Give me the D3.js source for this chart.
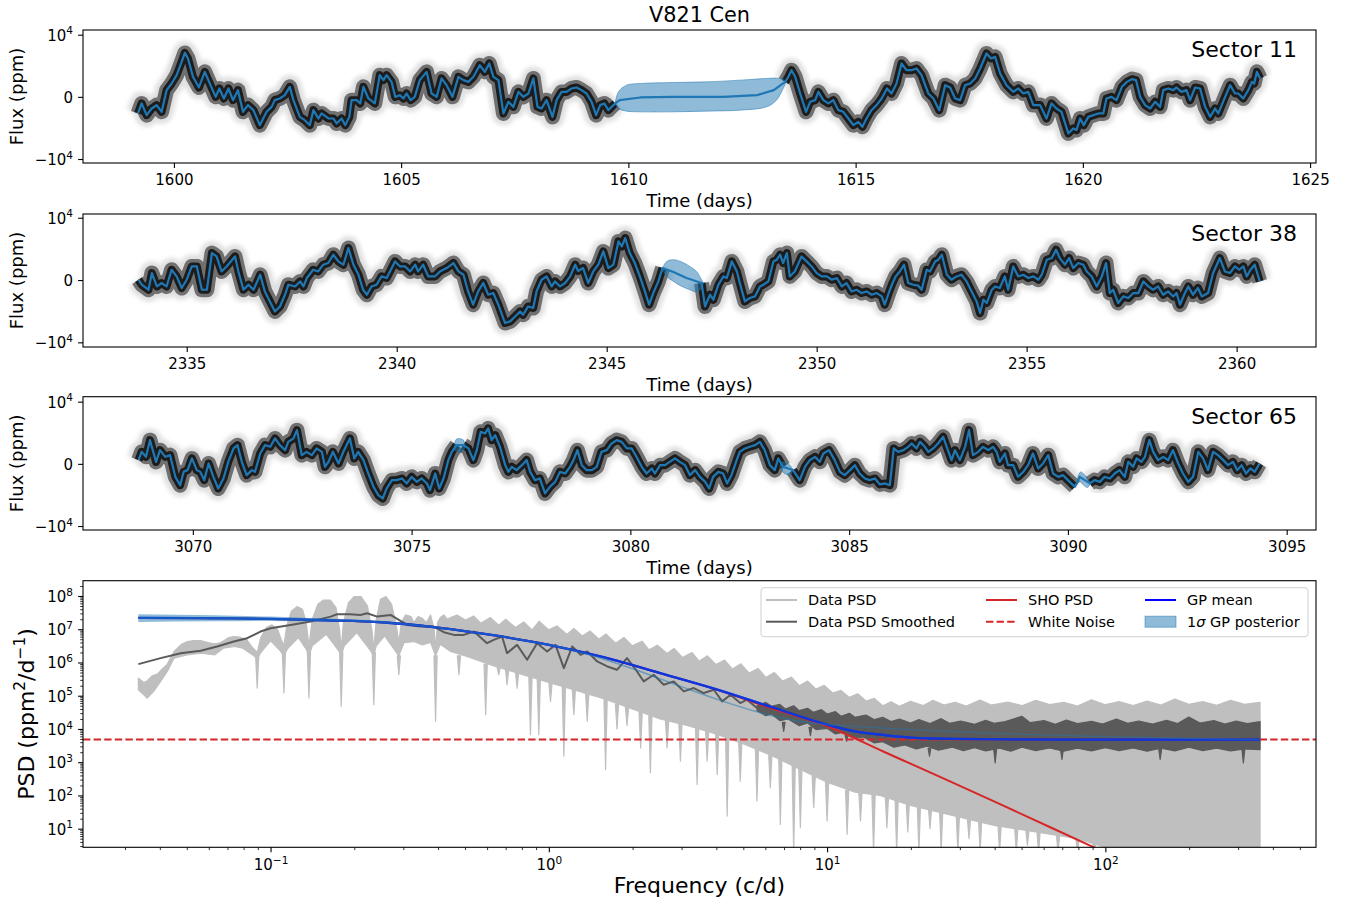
<!DOCTYPE html>
<html>
<head>
<meta charset="utf-8">
<script src="https://cdn.jsdelivr.net/npm/d3@7"></script>
<style>
  html, body { margin: 0; padding: 0; background: #fff; }
  svg text { font-family: "DejaVu Sans", sans-serif; }
</style>
</head>
<body>
<script>
// ---------------------------------------------------------------------------
// V821 Cen: TESS light curves (sectors 11, 38, 65) with GP posterior, and PSD
// ---------------------------------------------------------------------------

// Tick values
const s11Ticks = [1600, 1605, 1610, 1615, 1620, 1625];
const s38Ticks = [2335, 2340, 2345, 2350, 2355, 2360];
const s65Ticks = [3070, 3075, 3080, 3085, 3090, 3095];
const fluxTicks = [-1e4, 0, 1e4];
const psdYTicks = [1e1, 1e2, 1e3, 1e4, 1e5, 1e6, 1e7, 1e8];
const psdXTicks = [1e-1, 1e0, 1e1, 1e2];

// GP posterior mean [time (BTJD), flux (ppm)]
const s11Mean = [[1599.21,-2670],[1599.29,-1060],[1599.40,-2940],[1599.51,-1870],[1599.62,-1330],[1599.73,-2410],[1599.84,1080],[1599.95,2150],[1600.06,3490],[1600.17,5630],[1600.24,7070],[1600.31,6170],[1600.42,3220],[1600.55,1510],[1600.68,4020],[1600.79,2150],[1600.92,0],[1601.0,1350],[1601.1,-260],[1601.2,1350],[1601.3,-530],[1601.41,1080],[1601.52,-2410],[1601.63,-1330],[1601.75,-2140],[1601.89,-4550],[1602.04,-2410],[1602.15,-1610],[1602.22,-530],[1602.33,-260],[1602.44,270],[1602.55,1610],[1602.63,-530],[1602.77,-3220],[1602.88,-3750],[1602.99,-4550],[1603.07,-2140],[1603.18,-3480],[1603.25,-2670],[1603.40,-3480],[1603.51,-3480],[1603.58,-4280],[1603.69,-3480],[1603.77,-4550],[1603.86,-3220],[1603.91,-530],[1604.02,-530],[1604.10,-1060],[1604.17,1610],[1604.28,-260],[1604.42,-1060],[1604.53,3490],[1604.61,2690],[1604.68,3490],[1604.79,2410],[1604.87,0],[1604.97,270],[1605.05,-260],[1605.12,540],[1605.21,-530],[1605.30,0],[1605.41,2690],[1605.56,4020],[1605.67,540],[1605.78,0],[1605.89,2960],[1606.0,1880],[1606.13,0],[1606.26,3220],[1606.37,2690],[1606.48,2410],[1606.59,3220],[1606.73,5100],[1606.84,4020],[1606.94,5370],[1607.03,3220],[1607.14,2690],[1607.25,-2670],[1607.36,-800],[1607.47,-1610],[1607.58,800],[1607.69,0],[1607.80,540],[1607.91,2960],[1608.0,-1610],[1608.09,-1870],[1608.2,-530],[1608.33,-3220],[1608.42,-530],[1608.53,800],[1608.64,800],[1608.75,1350],[1608.86,1510],[1608.97,1080],[1609.08,540],[1609.19,-800],[1609.29,-2940],[1609.38,-1330],[1609.47,-1060],[1609.56,-2140],[1609.63,-1610],[1609.71,-1060],[1609.81,-530],[1610.26,-100],[1610.99,0],[1612.09,0],[1612.83,270],[1613.2,1080],[1613.45,2410],[1613.52,3220],[1613.59,4290],[1613.67,3220],[1613.78,540],[1613.91,-2410],[1614.0,-800],[1614.11,-530],[1614.18,800],[1614.29,-530],[1614.40,-1060],[1614.51,-530],[1614.62,-2140],[1614.73,-2410],[1614.84,-3480],[1614.95,-4550],[1615.06,-4020],[1615.15,-4820],[1615.24,-3480],[1615.35,-2140],[1615.46,-1330],[1615.57,-300],[1615.69,1350],[1615.79,540],[1615.90,2150],[1616.01,5370],[1616.12,4290],[1616.23,4290],[1616.34,4560],[1616.45,3490],[1616.60,540],[1616.71,-260],[1616.84,-2140],[1616.97,1880],[1617.08,1510],[1617.19,-260],[1617.30,-530],[1617.41,1880],[1617.52,2150],[1617.63,2960],[1617.74,4560],[1617.88,6980],[1617.98,6170],[1618.07,6430],[1618.18,3760],[1618.32,1880],[1618.47,800],[1618.58,1350],[1618.69,540],[1618.80,800],[1618.91,-1330],[1619.06,-1330],[1619.20,-3480],[1619.31,-1060],[1619.42,-1870],[1619.53,-2410],[1619.68,-5880],[1619.79,-5080],[1619.86,-5350],[1619.94,-3480],[1620.02,-4550],[1620.12,-3220],[1620.23,-2940],[1620.34,-2670],[1620.45,-2670],[1620.52,-260],[1620.63,0],[1620.74,-530],[1620.86,1610],[1620.97,2410],[1621.08,2850],[1621.17,2690],[1621.26,0],[1621.37,-1330],[1621.48,-1870],[1621.59,-800],[1621.70,-1610],[1621.77,1080],[1621.88,1350],[1621.99,1080],[1622.06,1510],[1622.17,800],[1622.28,1080],[1622.36,-530],[1622.47,1510],[1622.58,1350],[1622.69,-1610],[1622.80,-3220],[1622.91,-1870],[1622.98,-2670],[1623.13,0],[1623.24,1880],[1623.35,540],[1623.42,540],[1623.53,-260],[1623.64,1080],[1623.72,2410],[1623.77,2150],[1623.83,4020],[1623.90,2960]];

const s38Mean = [[2333.85,50],[2333.93,-750],[2334.09,-1560],[2334.17,1120],[2334.29,-1030],[2334.40,-480],[2334.52,-1030],[2334.64,1650],[2334.76,580],[2334.88,-1280],[2335.0,50],[2335.12,2180],[2335.24,2180],[2335.36,-1560],[2335.48,-1560],[2335.60,4330],[2335.71,3790],[2335.83,1380],[2335.95,2180],[2336.15,3790],[2336.23,1380],[2336.35,-1560],[2336.47,-750],[2336.59,-1560],[2336.75,850],[2336.86,-1830],[2336.98,-3430],[2337.10,-5040],[2337.22,-4240],[2337.34,-2360],[2337.42,-750],[2337.58,-1030],[2337.70,-220],[2337.78,-1030],[2337.86,320],[2338.01,1650],[2338.13,1380],[2338.25,2460],[2338.37,2730],[2338.49,4060],[2338.61,2990],[2338.73,2460],[2338.85,5140],[2338.97,2460],[2339.09,850],[2339.20,-1560],[2339.29,-2360],[2339.40,-1030],[2339.52,-750],[2339.64,580],[2339.76,320],[2339.84,1380],[2339.96,2990],[2340.08,2180],[2340.20,2180],[2340.32,1380],[2340.44,2460],[2340.51,1380],[2340.63,2460],[2340.75,580],[2340.91,580],[2341.03,1380],[2341.19,1920],[2341.35,2730],[2341.47,1380],[2341.59,850],[2341.70,-1830],[2341.82,-3960],[2341.94,-1830],[2342.06,-480],[2342.18,-2360],[2342.30,-2090],[2342.42,-3960],[2342.58,-6900],[2342.70,-6640],[2342.82,-5840],[2342.94,-5040],[2343.01,-5570],[2343.13,-4240],[2343.25,-4490],[2343.33,-1830],[2343.45,50],[2343.57,580],[2343.69,-1030],[2343.77,-220],[2343.89,-1030],[2344.01,-480],[2344.13,580],[2344.25,2460],[2344.32,1450],[2344.44,1920],[2344.56,-480],[2344.68,1380],[2344.80,2460],[2344.92,4590],[2345.04,1920],[2345.16,2460],[2345.28,6200],[2345.36,5400],[2345.44,6740],[2345.55,4330],[2345.67,2730],[2345.79,580],[2345.91,-1830],[2346.01,-3960],[2346.11,-2090],[2346.23,-220],[2346.33,1920],[2346.59,1300],[2346.90,320],[2347.26,-480],[2347.34,-4240],[2347.46,-2360],[2347.54,-3160],[2347.66,-750],[2347.78,580],[2347.86,320],[2347.98,2990],[2348.10,1380],[2348.17,-480],[2348.29,-3430],[2348.41,-2890],[2348.53,-2630],[2348.65,-1030],[2348.73,-750],[2348.85,-220],[2348.97,2990],[2349.05,3260],[2349.13,4060],[2349.20,2730],[2349.29,4330],[2349.36,580],[2349.48,1380],[2349.64,3790],[2349.76,2990],[2349.88,2180],[2350.0,1120],[2350.12,580],[2350.24,580],[2350.36,50],[2350.48,320],[2350.60,-1030],[2350.71,-480],[2350.83,-1830],[2350.95,-1560],[2351.07,-2090],[2351.19,-1830],[2351.31,-2360],[2351.43,-2090],[2351.55,-2630],[2351.62,-3960],[2351.72,-2000],[2351.80,-600],[2351.88,580],[2351.98,1380],[2352.08,2460],[2352.18,-480],[2352.30,-750],[2352.42,-910],[2352.50,-1560],[2352.62,1650],[2352.70,1380],[2352.82,2990],[2352.90,3260],[2352.98,4060],[2353.10,850],[2353.21,50],[2353.33,580],[2353.45,850],[2353.57,-220],[2353.69,-1830],[2353.81,-3430],[2353.89,-5300],[2353.97,-3160],[2354.05,-3690],[2354.17,-1560],[2354.25,-1030],[2354.36,-1280],[2354.48,580],[2354.56,-1560],[2354.68,2180],[2354.80,580],[2354.92,850],[2355.04,320],[2355.16,580],[2355.28,50],[2355.36,850],[2355.48,3260],[2355.60,3530],[2355.70,4860],[2355.79,3530],[2355.91,2460],[2356.01,3530],[2356.11,1920],[2356.23,2730],[2356.35,2460],[2356.43,1380],[2356.55,580],[2356.67,-1030],[2356.79,580],[2356.89,2730],[2356.98,-2090],[2357.06,-1560],[2357.18,-3690],[2357.30,-2630],[2357.42,-2890],[2357.54,-2090],[2357.66,-2090],[2357.78,-220],[2357.90,-1030],[2358.01,-1560],[2358.13,-1030],[2358.25,-2360],[2358.37,-1830],[2358.49,-2630],[2358.57,-2090],[2358.65,-3960],[2358.77,-2090],[2358.85,-1030],[2358.96,-2360],[2359.08,-1280],[2359.17,-2630],[2359.32,-2090],[2359.44,1120],[2359.60,3530],[2359.72,1380],[2359.84,1120],[2359.96,2180],[2360.06,1650],[2360.16,2180],[2360.24,580],[2360.33,1650],[2360.43,2460],[2360.55,-220]];

const s65Mean = [[3068.76,600],[3068.83,1930],[3068.93,1130],[3069.02,3810],[3069.16,320],[3069.25,2200],[3069.37,1130],[3069.48,1400],[3069.60,-2090],[3069.71,-3430],[3069.79,-1290],[3069.88,-1010],[3069.98,870],[3070.09,-1010],[3070.17,-1290],[3070.26,-2620],[3070.36,60],[3070.47,-2090],[3070.58,-3960],[3070.70,-2350],[3070.81,320],[3070.93,2480],[3071.02,3010],[3071.12,320],[3071.23,-1820],[3071.35,-1010],[3071.42,-1290],[3071.54,1670],[3071.65,3010],[3071.77,2740],[3071.88,4090],[3071.99,3010],[3072.11,2200],[3072.18,3540],[3072.30,4090],[3072.38,5420],[3072.49,1400],[3072.60,1930],[3072.72,1400],[3072.83,2480],[3072.95,1930],[3073.02,-480],[3073.10,320],[3073.20,1930],[3073.33,60],[3073.44,1930],[3073.59,4090],[3073.69,870],[3073.78,1930],[3073.90,600],[3074.01,-1550],[3074.13,-3700],[3074.24,-5040],[3074.34,-5570],[3074.43,-3960],[3074.55,-2620],[3074.66,-2620],[3074.78,-2350],[3074.89,-3150],[3075.0,-2090],[3075.12,-2900],[3075.23,-2350],[3075.35,-3150],[3075.42,-4230],[3075.54,-1550],[3075.63,-3960],[3075.73,-2350],[3075.84,600],[3075.92,1930],[3076.03,3010],[3076.18,3010],[3076.30,2480],[3076.41,600],[3076.49,2200],[3076.58,5150],[3076.68,4890],[3076.75,5700],[3076.83,3810],[3076.91,4620],[3077.02,2740],[3077.14,-210],[3077.21,-1290],[3077.29,-480],[3077.40,-1010],[3077.52,-210],[3077.63,600],[3077.71,-1290],[3077.82,-2620],[3077.93,-2350],[3078.05,-4760],[3078.16,-3700],[3078.28,-2900],[3078.39,-1290],[3078.51,-1550],[3078.62,-480],[3078.70,600],[3078.79,2200],[3078.89,-210],[3079.0,-1010],[3079.12,-1010],[3079.23,-480],[3079.34,1930],[3079.46,2200],[3079.57,3280],[3079.69,3810],[3079.80,3540],[3079.92,2480],[3080.03,2480],[3080.14,1130],[3080.26,-480],[3080.37,-1550],[3080.49,-740],[3080.56,-1550],[3080.68,-210],[3080.79,-210],[3080.90,320],[3081.02,870],[3081.13,320],[3081.25,-210],[3081.36,-1820],[3081.48,-1010],[3081.59,-2090],[3081.71,-2900],[3081.80,-3960],[3081.89,-2090],[3082.01,-1290],[3082.12,-1550],[3082.21,-3150],[3082.31,-1820],[3082.43,600],[3082.50,1930],[3082.62,2480],[3082.73,2740],[3082.85,3010],[3082.96,3540],[3083.07,2200],[3083.19,-210],[3083.30,-1010],[3083.38,870],[3083.49,-480],[3083.61,-740],[3083.72,-1010],[3083.87,-2620],[3083.99,-480],[3084.10,600],[3084.22,1130],[3084.33,320],[3084.41,1670],[3084.54,2200],[3084.67,600],[3084.79,-1290],[3084.90,-1820],[3085.02,-1010],[3085.13,-210],[3085.24,-1550],[3085.36,-2350],[3085.47,-2620],[3085.59,-2350],[3085.70,-3300],[3085.82,-3150],[3085.93,-3430],[3086.02,2480],[3086.12,1930],[3086.24,2200],[3086.35,2740],[3086.43,3280],[3086.54,2480],[3086.62,3540],[3086.73,2740],[3086.81,1930],[3086.92,2480],[3087.03,3280],[3087.15,4350],[3087.23,2740],[3087.34,600],[3087.42,2200],[3087.53,600],[3087.65,2740],[3087.74,5420],[3087.83,1400],[3087.95,1930],[3088.06,2740],[3088.18,2200],[3088.29,2740],[3088.37,1930],[3088.44,320],[3088.56,1670],[3088.63,-210],[3088.75,-210],[3088.86,-2090],[3088.98,-1290],[3089.09,-210],[3089.20,1670],[3089.32,-740],[3089.43,60],[3089.55,1400],[3089.66,-1550],[3089.78,-2090],[3089.89,-1820],[3090.00,-2620],[3090.16,-3700],[3090.27,-2090],[3090.50,-3150],[3090.61,-2620],[3090.73,-2900],[3090.84,-2090],[3090.96,-2350],[3091.07,-1550],[3091.18,-1010],[3091.30,-2090],[3091.38,320],[3091.49,-480],[3091.57,870],[3091.68,320],[3091.76,1130],[3091.86,3810],[3091.95,1930],[3092.06,600],[3092.18,1130],[3092.29,600],[3092.40,2200],[3092.52,60],[3092.63,-1550],[3092.75,-2900],[3092.86,-2090],[3092.98,1930],[3093.09,870],[3093.20,-1010],[3093.32,1930],[3093.43,1400],[3093.55,600],[3093.66,-210],[3093.77,320],[3093.87,-1010],[3093.97,-210],[3094.07,-1550],[3094.17,-740],[3094.27,-1290],[3094.38,60]];

// GP 1-sigma posterior inside the data gaps [time, lower, upper]
const s11Band = [[1609.71,-1060,-1060],[1609.78,-1870,800],[1609.96,-2300,1880],[1610.26,-2410,2150],[1610.99,-2410,2310],[1611.72,-2300,2410],[1612.46,-2140,2690],[1613.04,-1610,2960],[1613.26,-530,3010],[1613.41,1400,2850],[1613.47,2360,2360]];
const s38Band = [[2346.33,1650,1920],[2346.43,580,2990],[2346.59,-220,3260],[2346.79,-1030,2890],[2346.98,-1560,2180],[2347.14,-1930,1380],[2347.26,-1280,50],[2347.30,-480,-480]];
const s65Band = [[3075.97,2300,2300],[3076.02,2050,3950],[3076.10,1950,4050],[3076.18,2150,3850],[3076.23,2950,2950],
                 [3083.42,-300,-300],[3083.48,-1300,300],[3083.57,-1700,100],[3083.66,-1800,-300],[3083.71,-1000,-1000],
                 [3090.22,-2300,-2300],[3090.29,-2900,-1300],[3090.37,-3500,-1700],[3090.45,-3800,-2300],[3090.52,-3150,-3150]];
const s65BandGroups = [[3075.9, 3076.3], [3083.4, 3083.75], [3090.2, 3090.6]];

// Time ranges covered by photometry [start, end]
const s11Segments = [[1599.21, 1609.71], [1613.45, 1623.90]];
const s38Segments = [[2333.85, 2346.33], [2347.26, 2360.55]];
const s65Segments = [[3068.76, 3076.03], [3076.18, 3083.49], [3083.72, 3090.16], [3090.50, 3094.38]];

// Power spectral density, stored as [log10 f (c/d), log10 PSD (ppm^2/d^-1)]
const psdRawTop = [[-1.475,5.53],[-1.455,5.4],[-1.443,5.45],[-1.425,5.6],[-1.407,5.65],[-1.39,5.8],[-1.371,5.95],[-1.347,6.33],[-1.32,6.55],[-1.299,6.63],[-1.275,6.66],[-1.251,6.66],[-1.225,6.6],[-1.204,6.56],[-1.185,6.58],[-1.168,6.65],[-1.15,6.75],[-1.132,6.78],[-1.11,6.76],[-1.085,6.68],[-1.065,6.45],[-1.048,6.3],[-1.035,6.75],[-1.015,7.05],[-0.995,7.13],[-0.975,7.0],[-0.962,6.7],[-0.952,6.5],[-0.942,7.1],[-0.925,7.55],[-0.905,7.68],[-0.885,7.6],[-0.872,7.2],[-0.862,6.5],[-0.85,7.3],[-0.83,7.75],[-0.81,7.88],[-0.785,7.88],[-0.765,7.65],[-0.752,7.0],[-0.746,6.4],[-0.738,7.2],[-0.72,7.8],[-0.7,7.98],[-0.675,7.98],[-0.652,7.7],[-0.636,7.0],[-0.629,6.4],[-0.62,7.3],[-0.605,7.9],[-0.585,7.98],[-0.565,7.75],[-0.548,7.1],[-0.539,6.6],[-0.53,7.2],[-0.515,7.43],[-0.495,7.38],[-0.485,7.2],[-0.47,7.38],[-0.455,7.33],[-0.44,7.2],[-0.425,7.43],[-0.412,7.0],[-0.407,6.4],[-0.4,7.2],[-0.39,7.35],[-0.377,7.43],[-0.365,7.3],[-0.353,7.35],[-0.33,7.43],[-0.3,7.28],[-0.27,7.4],[-0.245,7.18],[-0.21,7.35],[-0.18,7.12],[-0.155,7.3],[-0.12,7.05],[-0.09,7.22],[-0.06,6.98],[-0.035,7.24],[0.0,6.98],[0.03,7.1],[0.065,6.84],[0.09,7.02],[0.12,6.8],[0.148,6.95],[0.18,6.7],[0.205,6.86],[0.24,6.58],[0.27,6.75],[0.3,6.5],[0.335,6.64],[0.36,6.38],[0.39,6.52],[0.425,6.27],[0.45,6.42],[0.48,6.15],[0.515,6.3],[0.54,6.04],[0.57,6.2],[0.6,5.94],[0.632,6.07],[0.66,5.8],[0.69,5.96],[0.72,5.68],[0.752,5.82],[0.78,5.55],[0.81,5.7],[0.84,5.44],[0.872,5.56],[0.9,5.3],[0.93,5.44],[0.96,5.2],[0.99,5.31],[1.02,5.08],[1.05,5.16],[1.08,4.95],[1.11,5.06],[1.14,4.84],[1.17,4.92],[1.2,4.7],[1.23,4.82],[1.26,4.68],[1.3,4.83],[1.345,4.7],[1.38,4.86],[1.42,4.72],[1.46,4.8],[1.5,4.69],[1.55,4.87],[1.59,4.72],[1.65,4.81],[1.7,4.7],[1.75,4.86],[1.8,4.73],[1.85,4.8],[1.9,4.69],[1.95,4.88],[2.0,4.73],[2.05,4.82],[2.1,4.7],[2.15,4.84],[2.2,4.72],[2.25,4.9],[2.3,4.74],[2.35,4.82],[2.4,4.71],[2.45,4.86],[2.5,4.74],[2.556,4.8]];
const psdRawBottom = [[-1.475,5.18],[-1.443,4.93],[-1.42,5.13],[-1.395,5.43],[-1.371,5.73],[-1.347,6.13],[-1.3,6.23],[-1.25,6.28],[-1.2,6.23],[-1.17,6.43],[-1.13,6.48],[-1.1,6.43],[-1.06,6.2],[-1.048,6.1],[-1.035,6.3],[-1.0,6.65],[-0.965,6.35],[-0.952,6.2],[-0.94,6.4],[-0.9,6.75],[-0.872,6.4],[-0.862,6.2],[-0.85,6.5],[-0.8,6.85],[-0.755,6.35],[-0.746,6.2],[-0.735,6.5],[-0.69,6.9],[-0.64,6.35],[-0.629,6.2],[-0.62,6.5],[-0.59,6.8],[-0.548,6.3],[-0.539,6.2],[-0.52,6.6],[-0.485,6.63],[-0.455,6.53],[-0.425,6.6],[-0.407,6.2],[-0.39,6.55],[-0.353,6.33],[-0.3,6.2],[-0.2,5.9],[-0.1,5.65],[0.0,5.4],[0.1,5.15],[0.2,4.9],[0.3,4.6],[0.4,4.3],[0.5,4.1],[0.6,3.85],[0.7,3.55],[0.8,3.2],[0.9,2.8],[1.0,2.4],[1.1,2.1],[1.19,2.0],[1.3,1.7],[1.45,1.4],[1.6,1.1],[1.75,0.9],[1.9,0.7],[2.05,0.3],[2.556,0.3]];
// Deep minima of the raw periodogram [log10 f, log10 local floor, log10 minimum]
const psdRawDips = [[-1.048,6.2,5.23],[-0.952,6.3,5.08],[-0.862,6.3,4.93],[-0.746,6.3,4.68],[-0.629,6.3,4.73],[-0.539,6.2,5.63],[-0.407,6.2,4.23],[-0.323,6.2,5.63],[-0.227,5.95,4.43],[-0.18,5.85,5.63],[-0.15,5.78,5.33],[-0.114,5.7,5.23],[-0.066,5.55,3.83],[-0.036,5.5,3.83],[0.006,5.38,4.83],[0.054,5.27,3.18],[0.09,5.18,4.43],[0.138,5.05,4.23],[0.204,4.9,2.78],[0.245,4.75,4.0],[0.281,4.65,4.1],[0.33,4.5,3.43],[0.365,4.4,2.68],[0.425,4.25,3.43],[0.473,4.15,3.03],[0.533,4.0,2.33],[0.569,3.95,3.03],[0.605,3.85,2.63],[0.641,3.75,1.38],[0.688,3.6,2.43],[0.748,3.4,1.83],[0.796,3.2,2.23],[0.832,3.1,1.13],[0.88,2.95,0.3],[0.904,2.8,1.03],[0.952,2.6,1.63],[1.0,2.4,1.23],[1.072,2.15,0.83],[1.12,2.08,1.23],[1.167,2.02,0.3],[1.215,1.95,1.03],[1.25,1.9,0.3],[1.29,1.8,0.9],[1.33,1.7,0.3],[1.37,1.62,1.0],[1.41,1.55,0.3],[1.47,1.4,0.3],[1.51,1.3,0.7],[1.55,1.25,0.3],[1.62,1.1,0.3],[1.68,1.0,0.3],[1.72,0.95,0.5],[1.76,0.9,0.3],[1.83,0.8,0.3],[1.9,0.7,0.3],[1.96,0.55,0.3]];

const psdSmoothLine = [[-1.475,5.95],[-1.395,6.13],[-1.323,6.28],[-1.251,6.35],[-1.192,6.48],[-1.132,6.63],[-1.084,6.73],[-1.036,6.93],[-1.0,7.03],[-0.928,7.13],[-0.856,7.23],[-0.784,7.38],[-0.761,7.45],[-0.713,7.45],[-0.677,7.43],[-0.653,7.48],[-0.617,7.38],[-0.569,7.43],[-0.539,7.28],[-0.509,7.13],[-0.461,7.08],[-0.413,7.08],[-0.377,6.91],[-0.341,6.83],[-0.305,6.83],[-0.269,6.93],[-0.222,6.58],[-0.198,6.68],[-0.168,6.78],[-0.15,6.28],[-0.114,6.53],[-0.078,6.08],[-0.042,6.58],[-0.006,6.33],[0.024,6.53],[0.054,5.83],[0.084,6.48],[0.114,6.23],[0.138,6.33],[0.174,6.03],[0.21,5.88],[0.245,5.78],[0.281,6.13],[0.317,5.73],[0.341,5.43],[0.377,5.63],[0.413,5.33],[0.449,5.43],[0.485,5.13],[0.521,5.23],[0.557,5.08],[0.593,5.18],[0.623,4.83],[0.653,5.03],[0.688,4.78],[0.712,4.88],[0.748,4.63]];
const psdSmoothTop = [[0.748,4.7],[0.78,4.8],[0.8,4.68],[0.83,4.74],[0.85,4.6],[0.88,4.7],[0.9,4.55],[0.93,4.62],[0.95,4.5],[0.98,4.58],[1.0,4.45],[1.03,4.52],[1.05,4.38],[1.08,4.47],[1.1,4.35],[1.14,4.42],[1.17,4.28],[1.2,4.35],[1.23,4.22],[1.26,4.3],[1.3,4.18],[1.33,4.28],[1.37,4.16],[1.41,4.31],[1.44,4.17],[1.48,4.24],[1.53,4.14],[1.57,4.26],[1.6,4.17],[1.64,4.22],[1.7,4.38],[1.73,4.19],[1.78,4.25],[1.82,4.14],[1.86,4.27],[1.9,4.16],[1.95,4.23],[1.99,4.15],[2.04,4.3],[2.08,4.17],[2.12,4.24],[2.17,4.15],[2.22,4.26],[2.26,4.16],[2.3,4.36],[2.34,4.18],[2.39,4.25],[2.43,4.15],[2.47,4.24],[2.51,4.16],[2.556,4.22]];
const psdSmoothBottom = [[0.748,4.55],[0.78,4.4],[0.8,4.45],[0.83,4.25],[0.86,4.3],[0.9,4.1],[0.93,4.18],[0.96,3.98],[1.0,4.02],[1.03,3.85],[1.06,3.9],[1.1,3.72],[1.13,3.76],[1.17,3.58],[1.2,3.62],[1.24,3.45],[1.28,3.52],[1.32,3.4],[1.36,3.48],[1.4,3.36],[1.45,3.45],[1.49,3.35],[1.53,3.44],[1.57,3.34],[1.62,3.42],[1.66,3.33],[1.7,3.45],[1.75,3.35],[1.8,3.43],[1.85,3.33],[1.9,3.42],[1.95,3.34],[2.0,3.44],[2.05,3.35],[2.1,3.43],[2.15,3.33],[2.2,3.42],[2.25,3.34],[2.3,3.45],[2.35,3.35],[2.4,3.42],[2.45,3.34],[2.5,3.4],[2.556,3.38]];
const psdSmoothDips = [[0.844,4.2,3.93],[0.94,4.05,3.8],[1.07,3.8,3.63],[1.368,3.42,3.18],[1.604,3.38,2.98],[1.844,3.38,3.08],[2.197,3.38,3.08],[2.496,3.38,2.98]];

const shoPsd = [[-1.475,7.34],[-1.2,7.33],[-1.0,7.31],[-0.8,7.27],[-0.6,7.21],[-0.4,7.05],[-0.2,6.82],[0.0,6.53],[0.2,6.15],[0.4,5.68],[0.6,5.19],[0.8,4.62],[1.0,4.08],[1.2,3.33],[1.4,2.58],[1.6,1.82],[1.8,1.05],[2.0,0.28]];
const gpMeanPsd = [[-1.475,7.34],[-1.2,7.33],[-1.0,7.31],[-0.8,7.27],[-0.6,7.21],[-0.4,7.05],[-0.2,6.82],[0.0,6.53],[0.2,6.15],[0.4,5.68],[0.6,5.2],[0.8,4.66],[1.0,4.13],[1.1,3.93],[1.2,3.82],[1.3,3.74],[1.45,3.70],[1.7,3.685],[2.0,3.68],[2.556,3.68]];
const gpBandPsd = [[-1.475,7.22,7.45],[-1.2,7.24,7.42],[-1.0,7.25,7.38],[-0.8,7.23,7.32],[-0.6,7.18,7.25],[-0.4,7.02,7.08],[0.0,6.5,6.56],[1.0,4.11,4.15],[2.556,3.66,3.70]];
const whiteNoiseLevel = 4790; // ppm^2 / d^-1

// ---------------------------------------------------------------------------
const FONT = '"DejaVu Sans", sans-serif';
const C0 = '#1f77b4', RED = '#d62728';
const AX_L = 83, AX_R = 1316;

const svg = d3.select('body').append('svg')
  .attr('width', 1353).attr('height', 907)
  .style('font-family', FONT);
svg.append('rect').attr('width', 1353).attr('height', 907).attr('fill', '#fff');
const defs = svg.append('defs');
defs.append('filter').attr('id', 'soft').attr('x', '-5%').attr('y', '-20%').attr('width', '110%').attr('height', '140%')
  .append('feGaussianBlur').attr('stdDeviation', 2);

// text with superscripts: parts = [{t, sup, it}]
function rich(sel, parts, fs) {
  let shift = 0;
  parts.forEach(p => {
    const ts = sel.append('tspan').text(p.t);
    const target = p.sup ? -fs * 0.42 : 0;
    if (target - shift !== 0) ts.attr('dy', target - shift);
    shift = target;
    if (p.sup) ts.attr('font-size', fs * 0.7);
    if (p.it) ts.attr('font-style', 'italic');
  });
}

// ---------------------------------------------------------------------------
// Light curve panels
const panels = [
  {label: 'Sector 11', top: 30,    bottom: 163, t: [1598.0, 1625.13], f: [-10643, 10756], ticks: s11Ticks, mean: s11Mean, band: s11Band, groups: [[1609, 1614]], segs: s11Segments},
  {label: 'Sector 38', top: 214,   bottom: 347, t: [2332.53, 2361.89], f: [-10750, 10600], ticks: s38Ticks, mean: s38Mean, band: s38Band, groups: [[2346, 2348]], segs: s38Segments},
  {label: 'Sector 65', top: 396.7, bottom: 530, t: [3067.49, 3095.67], f: [-10640, 10800], ticks: s65Ticks, mean: s65Mean, band: s65Band, groups: s65BandGroups, segs: s65Segments}
];

panels.forEach((p, i) => {
  const x = d3.scaleLinear().domain(p.t).range([AX_L, AX_R]);
  const y = d3.scaleLinear().domain(p.f).range([p.bottom, p.top]);
  const g = svg.append('g');

  defs.append('clipPath').attr('id', 'lc' + i).append('rect')
    .attr('x', AX_L).attr('y', p.top).attr('width', AX_R - AX_L).attr('height', p.bottom - p.top);
  const plot = g.append('g').attr('clip-path', `url(#lc${i})`);

  const line = d3.line().x(d => x(d[0])).y(d => y(d[1]));

  // photometry: dense cloud of 2-min points around the GP mean
  p.segs.forEach(([a, b]) => {
    const pts = p.mean.filter(d => d[0] >= a - 1e-6 && d[0] <= b + 1e-6);
    const dd = line(pts);
    plot.append('path').attr('d', dd).attr('fill', 'none').attr('stroke', '#000')
      .attr('stroke-opacity', 0.12).attr('stroke-width', 24).attr('stroke-linejoin', 'round')
      .attr('filter', 'url(#soft)');
    plot.append('path').attr('d', dd).attr('fill', 'none').attr('stroke', '#000')
      .attr('stroke-opacity', 0.5).attr('stroke-width', 15).attr('stroke-linejoin', 'round');
    plot.append('path').attr('d', dd).attr('fill', 'none').attr('stroke', '#000')
      .attr('stroke-opacity', 0.75).attr('stroke-width', 8).attr('stroke-linejoin', 'round');
  });

  // GP 1-sigma band through the gaps
  const area = d3.area().x(d => x(d[0])).y0(d => y(d[1])).y1(d => y(d[2])).curve(d3.curveCatmullRom);
  p.groups.forEach(([a, b]) => {
    const pts = p.band.filter(d => d[0] >= a && d[0] <= b);
    plot.append('path').attr('d', area(pts)).attr('fill', C0).attr('fill-opacity', 0.5)
      .attr('stroke', C0).attr('stroke-opacity', 0.5).attr('stroke-width', 1);
  });

  // GP mean
  plot.append('path').attr('d', line(p.mean)).attr('fill', 'none')
    .attr('stroke', C0).attr('stroke-width', 2.2).attr('stroke-linejoin', 'round');

  // frame
  g.append('rect').attr('x', AX_L).attr('y', p.top).attr('width', AX_R - AX_L).attr('height', p.bottom - p.top)
    .attr('fill', 'none').attr('stroke', '#000').attr('stroke-width', 1.1);

  // x axis
  const xa = g.append('g').attr('transform', `translate(0,${p.bottom})`)
    .call(d3.axisBottom(x).tickValues(p.ticks).tickSize(4.9).tickSizeOuter(0).tickFormat(d3.format('d')));
  xa.attr('font-size', 15).attr('font-family', FONT);
  xa.select('.domain').remove();
  xa.selectAll('.tick line').attr('stroke', '#000').attr('stroke-width', 1.1);
  xa.selectAll('.tick text').attr('y', 22).attr('dy', null).attr('fill', '#000');

  // y axis
  const ya = g.append('g').attr('transform', `translate(${AX_L},0)`)
    .call(d3.axisLeft(y).tickValues(fluxTicks).tickSize(4.9).tickSizeOuter(0).tickFormat(() => ''));
  ya.attr('font-size', 15).attr('font-family', FONT);
  ya.select('.domain').remove();
  ya.selectAll('.tick line').attr('stroke', '#000').attr('stroke-width', 1.1);
  ya.selectAll('.tick text').attr('x', -10).attr('dy', '0.36em').attr('fill', '#000').each(function (d) {
    const t = d3.select(this);
    if (d === 0) { t.text('0'); return; }
    const e = Math.round(Math.log10(Math.abs(d)));
    rich(t, [{t: (d < 0 ? '\u2212' : '') + '10'}, {t: String(e), sup: true}], 15);
  });

  // labels
  g.append('text').attr('x', 1297).attr('y', p.top + 27).attr('text-anchor', 'end')
    .attr('font-size', 22).text(p.label);
  g.append('text').attr('x', (AX_L + AX_R) / 2).attr('y', p.bottom + 44).attr('text-anchor', 'middle')
    .attr('font-size', 18).text('Time (days)');
  g.append('text').attr('transform', `translate(23,${(p.top + p.bottom) / 2}) rotate(-90)`)
    .attr('text-anchor', 'middle').attr('font-size', 18).text('Flux (ppm)');
});

svg.append('text').attr('x', (AX_L + AX_R) / 2).attr('y', 21.5).attr('text-anchor', 'middle')
  .attr('font-size', 20.8).text('V821 Cen');

// ---------------------------------------------------------------------------
// PSD panel
const PT = 580.7, PB = 847.3;
const xP = d3.scaleLog().domain([Math.pow(10, -1.674), Math.pow(10, 2.757)]).range([AX_L, AX_R]);
const yP = d3.scaleLog().domain([Math.pow(10, 0.44), Math.pow(10, 8.46)]).range([PB, PT]);
const px = lf => xP(Math.pow(10, lf));
const py = lp => yP(Math.pow(10, lp));
const gP = svg.append('g');
defs.append('clipPath').attr('id', 'psdclip').append('rect')
  .attr('x', AX_L).attr('y', PT).attr('width', AX_R - AX_L).attr('height', PB - PT);
const plotP = gP.append('g').attr('clip-path', 'url(#psdclip)');

const lineLog = d3.line().x(d => px(d[0])).y(d => py(d[1]));
function envelope(top, bot) {
  return lineLog(top) + 'L' + lineLog(bot.slice().reverse()).slice(1) + 'Z';
}
function dips(sel, arr, color, halfW) {
  arr.forEach(d => {
    const xc = px(d[0]);
    sel.append('path')
      .attr('d', `M${xc - halfW},${py(d[1])}L${xc},${py(d[2])}L${xc + halfW},${py(d[1])}Z`)
      .attr('fill', color).attr('stroke', color).attr('stroke-width', 1.2).attr('stroke-linejoin', 'round');
  });
}

const GRAY_L = '#bfbfbf', GRAY_D = '#5a5a5a';
// raw periodogram
plotP.append('path').attr('d', envelope(psdRawTop, psdRawBottom)).attr('fill', GRAY_L)
  .attr('stroke', GRAY_L).attr('stroke-width', 1.2).attr('stroke-linejoin', 'round');
dips(plotP, psdRawDips, GRAY_L, 1.6);

// smoothed periodogram
plotP.append('path').attr('d', lineLog(psdSmoothLine)).attr('fill', 'none')
  .attr('stroke', GRAY_D).attr('stroke-width', 2).attr('stroke-linejoin', 'round');
plotP.append('path').attr('d', envelope(psdSmoothTop, psdSmoothBottom)).attr('fill', GRAY_D)
  .attr('stroke', GRAY_D).attr('stroke-width', 1.2).attr('stroke-linejoin', 'round');
dips(plotP, psdSmoothDips, GRAY_D, 1.4);

// SHO component
const smoothLog = d3.line().x(d => px(d[0])).y(d => py(d[1])).curve(d3.curveMonotoneX);
plotP.append('path').attr('d', smoothLog(shoPsd)).attr('fill', 'none')
  .attr('stroke', RED).attr('stroke-width', 2);

// white noise
plotP.append('line').attr('x1', AX_L).attr('x2', AX_R)
  .attr('y1', yP(whiteNoiseLevel)).attr('y2', yP(whiteNoiseLevel))
  .attr('stroke', RED).attr('stroke-width', 2).attr('stroke-dasharray', '7.4,3.2');

// GP mean, then its 1-sigma band drawn over it
const bandLog = d3.area().x(d => px(d[0])).y0(d => py(d[1])).y1(d => py(d[2])).curve(d3.curveMonotoneX);
plotP.append('path').attr('d', smoothLog(gpMeanPsd)).attr('fill', 'none')
  .attr('stroke', '#0000ff').attr('stroke-width', 2.3);
plotP.append('path').attr('d', bandLog(gpBandPsd)).attr('fill', C0).attr('fill-opacity', 0.5);
plotP.append('path').attr('d', smoothLog(gpMeanPsd)).attr('fill', 'none')
  .attr('stroke', C0).attr('stroke-opacity', 0.45).attr('stroke-width', 2.3);

// frame
gP.append('rect').attr('x', AX_L).attr('y', PT).attr('width', AX_R - AX_L).attr('height', PB - PT)
  .attr('fill', 'none').attr('stroke', '#000').attr('stroke-width', 1.1);

// axes
const minorX = [], minorY = [];
for (let k = -2; k <= 2; k++) for (let m = 2; m <= 9; m++) {
  const v = m * Math.pow(10, k);
  if (v > xP.domain()[0] && v < xP.domain()[1]) minorX.push(v);
}
for (let k = 0; k <= 8; k++) for (let m = 2; m <= 9; m++) {
  const v = m * Math.pow(10, k);
  if (v > yP.domain()[0] && v < yP.domain()[1]) minorY.push(v);
}
function styleAxis(a) {
  a.attr('font-size', 15).attr('font-family', FONT);
  a.select('.domain').remove();
  a.selectAll('.tick line').attr('stroke', '#000').attr('stroke-width', 1.1);
}
const xMaj = gP.append('g').attr('transform', `translate(0,${PB})`)
  .call(d3.axisBottom(xP).tickValues(psdXTicks).tickSize(4.9).tickSizeOuter(0).tickFormat(() => ''));
styleAxis(xMaj);
xMaj.selectAll('.tick text').attr('y', 23).attr('dy', null).attr('fill', '#000').each(function (d) {
  const e = Math.round(Math.log10(d));
  rich(d3.select(this), [{t: '10'}, {t: (e < 0 ? '\u2212' : '') + Math.abs(e), sup: true}], 15);
});
const xMin = gP.append('g').attr('transform', `translate(0,${PB})`)
  .call(d3.axisBottom(xP).tickValues(minorX).tickSize(2.8).tickSizeOuter(0).tickFormat(() => ''));
styleAxis(xMin);
xMin.selectAll('.tick line').attr('stroke-width', 0.8);

const yMaj = gP.append('g').attr('transform', `translate(${AX_L},0)`)
  .call(d3.axisLeft(yP).tickValues(psdYTicks).tickSize(4.9).tickSizeOuter(0).tickFormat(() => ''));
styleAxis(yMaj);
yMaj.selectAll('.tick text').attr('x', -10).attr('dy', '0.36em').attr('fill', '#000').each(function (d) {
  rich(d3.select(this), [{t: '10'}, {t: String(Math.round(Math.log10(d))), sup: true}], 15);
});
const yMin = gP.append('g').attr('transform', `translate(${AX_L},0)`)
  .call(d3.axisLeft(yP).tickValues(minorY).tickSize(2.8).tickSizeOuter(0).tickFormat(() => ''));
styleAxis(yMin);
yMin.selectAll('.tick line').attr('stroke-width', 0.8);

// axis labels
gP.append('text').attr('x', (AX_L + AX_R) / 2).attr('y', 893).attr('text-anchor', 'middle')
  .attr('font-size', 22).text('Frequency (c/d)');
rich(gP.append('text').attr('transform', `translate(34,${(PT + PB) / 2}) rotate(-90)`)
  .attr('text-anchor', 'middle').attr('font-size', 22),
  [{t: 'PSD (ppm'}, {t: '2', sup: true}, {t: '/d'}, {t: '\u22121', sup: true}, {t: ')'}], 22);

// legend
const lg = gP.append('g');
lg.append('rect').attr('x', 761).attr('y', 587.7).attr('width', 547).attr('height', 49).attr('rx', 3)
  .attr('fill', '#fff').attr('fill-opacity', 0.8).attr('stroke', '#d0d0d0').attr('stroke-width', 1);
const legendItems = [
  {col: 0, row: 0, text: [{t: 'Data PSD'}], kind: 'line', color: GRAY_L},
  {col: 0, row: 1, text: [{t: 'Data PSD Smoothed'}], kind: 'line', color: GRAY_D},
  {col: 1, row: 0, text: [{t: 'SHO PSD'}], kind: 'line', color: RED},
  {col: 1, row: 1, text: [{t: 'White Noise'}], kind: 'dash', color: RED},
  {col: 2, row: 0, text: [{t: 'GP mean'}], kind: 'line', color: '#0000ff'},
  {col: 2, row: 1, text: [{t: '1'}, {t: '\u03c3', it: true}, {t: ' GP posterior'}], kind: 'patch', color: C0}
];
const colX = [766, 986, 1145];
const rowY = [600, 621.7];
legendItems.forEach(it => {
  const x0 = colX[it.col], yc = rowY[it.row];
  if (it.kind === 'patch') {
    lg.append('rect').attr('x', x0).attr('y', yc - 5.5).attr('width', 31).attr('height', 11)
      .attr('fill', it.color).attr('fill-opacity', 0.5).attr('stroke', it.color).attr('stroke-opacity', 0.5);
  } else {
    const l = lg.append('line').attr('x1', x0).attr('x2', x0 + 31).attr('y1', yc).attr('y2', yc)
      .attr('stroke', it.color).attr('stroke-width', 2);
    if (it.kind === 'dash') l.attr('stroke-dasharray', '7.4,3.2');
  }
  const t = lg.append('text').attr('x', x0 + 42).attr('y', yc + 5.2).attr('font-size', 14.5).attr('fill', '#000');
  rich(t, it.text, 14.5);
});
</script>
</body>
</html>
